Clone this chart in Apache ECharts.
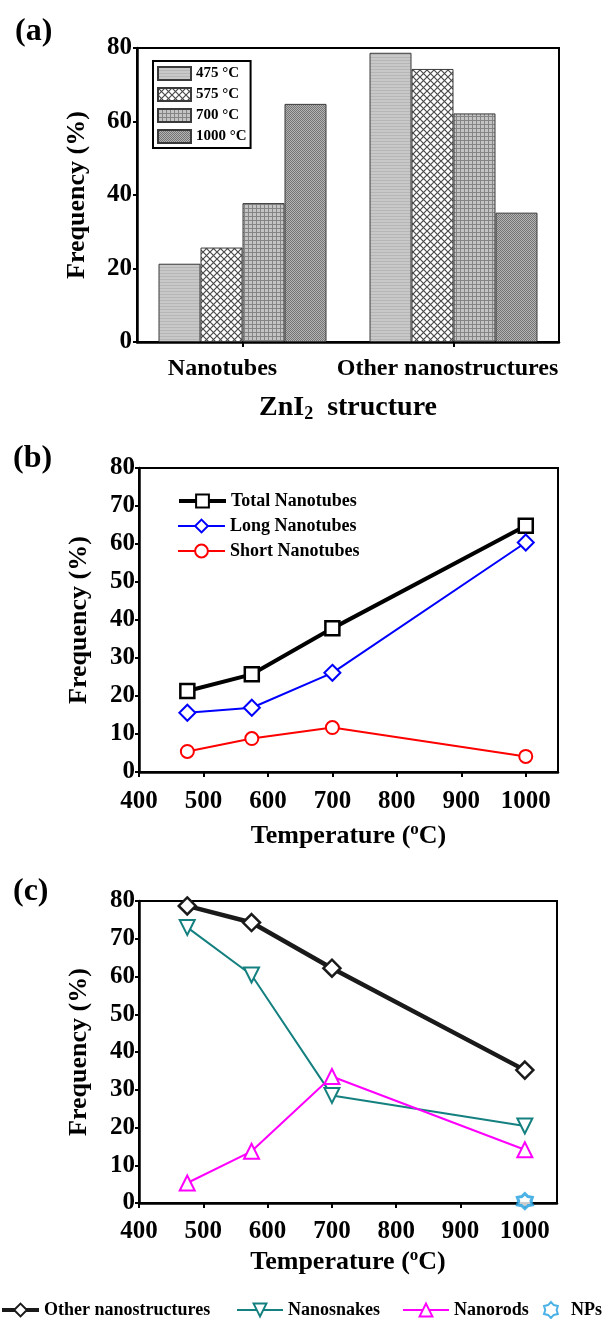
<!DOCTYPE html>
<html>
<head>
<meta charset="utf-8">
<script src="https://cdn.jsdelivr.net/npm/echarts@6/dist/echarts.min.js"></script>
<style>
html,body{margin:0;padding:0;background:#fff;}
#c{width:614px;height:1319px;}
</style>
</head>
<body>
<div id="c"></div>
<script>
// ---------- data ----------
const structCats = ['Nanotubes', 'Other nanostructures'];
const tempNames = ['475 °C', '575 °C', '700 °C', '1000 °C'];
const temps = [475, 575, 700, 1000];
const totalNanotubes = [21.3, 25.7, 37.8, 64.8];
const otherNanostructures = [78.7, 74.3, 62.2, 35.2];
const longNanotubes = [15.6, 16.9, 26.1, 60.4];
const shortNanotubes = [5.4, 8.8, 11.7, 4.1];
const nanosnakes = [73.0, 60.4, 28.5, 20.4];
const nanorods = [5.3, 13.7, 33.5, 14.1];
const npsTemps = [1000];
const nps = [0.5];
const yTicksA = [0, 20, 40, 60, 80];
const yTicksBC = [0, 10, 20, 30, 40, 50, 60, 70, 80];
const xTicksBC = [400, 500, 600, 700, 800, 900, 1000];

// ---------- styles ----------
const FONT = "'Liberation Serif', 'Times New Roman', serif";
function pat(w, h, draw) {
  const c = document.createElement('canvas');
  c.width = w; c.height = h;
  const g = c.getContext('2d');
  draw(g);
  return { image: c, repeat: 'repeat' };
}
const patterns = [
  pat(4, 3, g => { g.fillStyle = '#c8c8c8'; g.fillRect(0,0,4,3); g.fillStyle = '#b6b6b6'; g.fillRect(0,0,4,1); }),
  pat(7, 7, g => { g.fillStyle = '#ffffff'; g.fillRect(0,0,7,7); g.strokeStyle = '#4a4a4a'; g.lineWidth = 1.2;
    g.beginPath(); g.moveTo(0,0); g.lineTo(7,7); g.moveTo(7,0); g.lineTo(0,7); g.stroke(); }),
  pat(4, 4, g => { g.fillStyle = '#c4c4c4'; g.fillRect(0,0,4,4); g.fillStyle = '#858585'; g.fillRect(0,0,4,1); g.fillRect(0,0,1,4); }),
  pat(2, 2, g => { g.fillStyle = '#b4b4b4'; g.fillRect(0,0,2,2); g.fillStyle = '#747474'; g.fillRect(0,0,1,1); g.fillRect(1,1,1,1); })
];
// gear-like symbol for NPs
function gearPath() {
  const pts = [];
  const n = 12;
  for (let i = 0; i < n; i++) {
    const a = (i / n) * Math.PI * 2;
    const r = i % 2 === 0 ? 12 : 8.5;
    pts.push((12 + r * Math.sin(a)).toFixed(2) + ',' + (12 - r * Math.cos(a)).toFixed(2));
  }
  return 'path://M' + pts.join(' L') + ' Z';
}
const GEAR = gearPath();

const axisLine = { show: true, lineStyle: { color: '#000', width: 2.5 } };
const tickLbl = (size, margin) => ({ color: '#000', fontFamily: FONT, fontWeight: 'bold', fontSize: size, margin: margin });
const nameStyle = (size) => ({
  color: '#000', fontFamily: FONT, fontWeight: 'bold', fontSize: size,
  rich: {
    sup: { fontFamily: FONT, fontWeight: 'bold', fontSize: 17, color: '#000', verticalAlign: 'top', padding: [0, 0, 14, 0] },
    sub: { fontFamily: FONT, fontWeight: 'bold', fontSize: 18, color: '#000', padding: [12, 0, 0, 0] }
  }
});
const gridBase = { show: true, borderColor: '#000', borderWidth: 2, backgroundColor: 'transparent' };

const chart = echarts.init(document.getElementById('c'), null, { renderer: 'canvas' });

const series = [];
tempNames.forEach((nm, i) => {
  series.push({
    name: nm, type: 'bar', xAxisIndex: 0, yAxisIndex: 0,
    data: [totalNanotubes[i], otherNanostructures[i]],
    barWidth: 42, barGap: '0%',
    itemStyle: { color: patterns[i], borderColor: '#3a3a3a', borderWidth: 1 },
    emphasis: { disabled: true }
  });
});
const lineSeries = (name, xi, xs, ys, color, width, symbol, size, rot, bw) => ({
  name, type: 'line', xAxisIndex: xi, yAxisIndex: xi,
  data: xs.map((x, k) => [x, ys[k]]),
  symbol, symbolSize: size, symbolRotate: rot || 0, showAllSymbol: true,
  lineStyle: { color, width },
  itemStyle: { color: '#fff', borderColor: color, borderWidth: bw },
  z: 3, emphasis: { disabled: true }
});
series.push(lineSeries('Total Nanotubes', 1, temps, totalNanotubes, '#000', 4, 'rect', 14, 0, 2.5));
series.push(lineSeries('Long Nanotubes', 1, temps, longNanotubes, '#0000ff', 2, 'diamond', 16, 0, 2));
series.push(lineSeries('Short Nanotubes', 1, temps, shortNanotubes, '#ff0000', 2, 'circle', 13, 0, 2));
series.push(lineSeries('Other nanostructures', 2, temps, otherNanostructures, '#1a1a1a', 4.5, 'diamond', 17, 0, 2.5));
series.push(lineSeries('Nanosnakes', 2, temps, nanosnakes, '#14807f', 2, 'triangle', 15, 180, 2));
series.push(lineSeries('Nanorods', 2, temps, nanorods, '#ff00ff', 2, 'triangle', 15, 0, 2));
series.push({
  name: 'NPs', type: 'scatter', xAxisIndex: 2, yAxisIndex: 2,
  data: npsTemps.map((x, k) => [x, nps[k]]),
  symbol: GEAR, symbolSize: 15,
  itemStyle: { color: '#ffffff', borderColor: '#1f9fe0', borderWidth: 3 },
  z: 4, emphasis: { disabled: true }
});

const legText = (size) => ({ color: '#000', fontFamily: FONT, fontWeight: 'bold', fontSize: size });
const oneLegend = (name, left, top, itemWidth, lineWidth) => ({
  data: [name], left, top, itemWidth, itemHeight: 16, padding: 0,
  lineStyle: lineWidth ? { width: lineWidth } : undefined,
  textStyle: legText(18), selectedMode: false
});

const option = {
  animation: false,
  backgroundColor: '#fff',
  grid: [
    Object.assign({ left: 137, top: 48, width: 422, height: 294 }, gridBase),
    Object.assign({ left: 139, top: 468, width: 419, height: 304 }, gridBase),
    Object.assign({ left: 139, top: 901, width: 418, height: 302 }, gridBase)
  ],
  xAxis: [
    { type: 'category', gridIndex: 0, data: structCats,
      axisLine, axisTick: { show: true, alignWithLabel: true, length: 5, lineStyle: { color: '#000', width: 2 } },
      axisLabel: Object.assign(tickLbl(24, 15), {
        interval: 0,
        formatter: v => (v === structCats[0] ? '{a|' + v + '}' : '{b|' + v + '}'),
        rich: {
          a: { fontFamily: FONT, fontWeight: 'bold', fontSize: 24, color: '#000', padding: [0, 40, 0, 0] },
          b: { fontFamily: FONT, fontWeight: 'bold', fontSize: 24, color: '#000', padding: [0, 12, 0, 0] }
        }
      }),
      splitLine: { show: false },
      name: 'ZnI{sub|2}  structure', nameLocation: 'middle', nameGap: 51, nameTextStyle: nameStyle(28) },
    { type: 'value', gridIndex: 1, min: 400, max: 1050, interval: 100,
      axisLine, axisTick: { show: true, length: 5, lineStyle: { color: '#000', width: 2 } },
      axisLabel: Object.assign(tickLbl(25, 17), { showMaxLabel: false, formatter: v => (xTicksBC.indexOf(v) >= 0 ? String(v) : '') }),
      splitLine: { show: false },
      name: 'Temperature ({sup|o}C)', nameLocation: 'middle', nameGap: 49, nameTextStyle: nameStyle(26) },
    { type: 'value', gridIndex: 2, min: 400, max: 1050, interval: 100,
      axisLine, axisTick: { show: true, length: 5, lineStyle: { color: '#000', width: 2 } },
      axisLabel: Object.assign(tickLbl(25, 16), { showMaxLabel: false, formatter: v => (xTicksBC.indexOf(v) >= 0 ? String(v) : '') }),
      splitLine: { show: false },
      name: 'Temperature ({sup|o}C)', nameLocation: 'middle', nameGap: 44, nameTextStyle: nameStyle(26) }
  ],
  yAxis: [
    { type: 'value', gridIndex: 0, min: yTicksA[0], max: yTicksA[yTicksA.length - 1], interval: 20,
      axisLine, axisTick: { show: true, length: 4, lineStyle: { color: '#000', width: 2 } },
      axisLabel: tickLbl(25, 5), splitLine: { show: false },
      name: 'Frequency (%)', nameLocation: 'middle', nameGap: 47, nameTextStyle: nameStyle(26) },
    { type: 'value', gridIndex: 1, min: yTicksBC[0], max: yTicksBC[yTicksBC.length - 1], interval: 10,
      axisLine, axisTick: { show: true, length: 4, lineStyle: { color: '#000', width: 2 } },
      axisLabel: tickLbl(25, 4), splitLine: { show: false },
      name: 'Frequency (%)', nameLocation: 'middle', nameGap: 47, nameTextStyle: nameStyle(26) },
    { type: 'value', gridIndex: 2, min: yTicksBC[0], max: yTicksBC[yTicksBC.length - 1], interval: 10,
      axisLine, axisTick: { show: true, length: 4, lineStyle: { color: '#000', width: 2 } },
      axisLabel: tickLbl(25, 4), splitLine: { show: false },
      name: 'Frequency (%)', nameLocation: 'middle', nameGap: 47, nameTextStyle: nameStyle(26) }
  ],
  legend: [
    { data: tempNames, orient: 'vertical', left: 153, top: 61, icon: 'rect',
      itemWidth: 33, itemHeight: 13, itemGap: 6, padding: [5, 4, 4, 4],
      borderColor: '#000', borderWidth: 2, backgroundColor: '#fff',
      textStyle: Object.assign(legText(15), { lineHeight: 15 }), selectedMode: false },
    oneLegend('Total Nanotubes', 177, 492, 47, 4),
    oneLegend('Long Nanotubes', 177, 517, 47, 2),
    oneLegend('Short Nanotubes', 177, 542, 47, 2),
    oneLegend('Other nanostructures', 0, 1301, 37, 4),
    oneLegend('Nanosnakes', 236, 1301, 46, 2),
    oneLegend('Nanorods', 402, 1301, 46, 2),
    oneLegend('NPs', 543, 1301, 30, 0)
  ],
  graphic: [
    { type: 'text', left: 15, top: 16, style: { text: '(a)', fill: '#000', font: "bold 32px 'Liberation Serif', serif" } },
    { type: 'text', left: 13, top: 443, style: { text: '(b)', fill: '#000', font: "bold 32px 'Liberation Serif', serif" } },
    { type: 'text', left: 13, top: 876, style: { text: '(c)', fill: '#000', font: "bold 32px 'Liberation Serif', serif" } }
  ],
  series
};
chart.setOption(option);
</script>
</body>
</html>
